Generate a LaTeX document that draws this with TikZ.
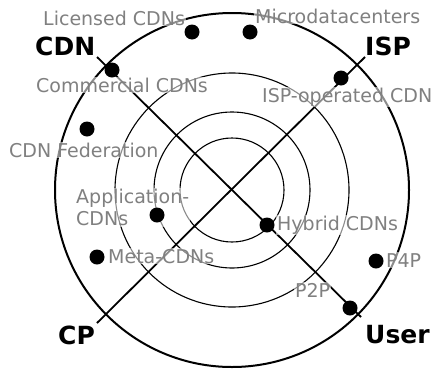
\documentclass[tikz,border=0pt]{standalone}
\usepackage{fontspec}
\setmainfont{DejaVu Sans}
\usetikzlibrary{positioning}

\tikzset{
  dot/.style={circle,fill=black,inner sep=0pt,minimum size=15pt},
  lbl/.style={text=black!50,font=\fontsize{19}{22}\selectfont,fill=white,
    fill opacity=0.55,text opacity=1,inner sep=1pt},
  role/.style={font=\fontsize{25}{27}\selectfont\bfseries,inner sep=0pt},
}

\begin{document}
\begin{tikzpicture}[x=1pt,y=-1pt]
  \useasboundingbox (0,0) rectangle (433,370);
  \coordinate (c) at (232,190);
  \draw [line width=2pt] (c) circle [radius=177pt];
  \foreach \r in {117,78,52}
    \draw [line width=1.1pt] (c) circle [radius=\r pt];
  % the two axes
  \coordinate (cdnend) at (97,57);
  \coordinate (userend) at (361,317);
  \coordinate (ispend) at (365,57);
  \coordinate (cpend) at (97,323);
  \draw [line width=1.8pt] (cdnend) -- (userend);
  \draw [line width=1.8pt] (ispend) -- (cpend);
  % end labels
  \node [role,anchor=base west] (cdn) at (35,55) {CDN};
  \node [role,anchor=base west] (isp) at (365,55) {ISP};
  \node [role,anchor=base west] (cp) at (58,344) {CP};
  \node [role,anchor=base west] (user) at (365,343) {User};
  % approaches
  \node [lbl,anchor=base west] (licensed) at (42,25) {Licensed CDNs};
  \node [lbl,anchor=base west] (micro) at (254,23) {Microdatacenters};
  \node [lbl,anchor=base west] (commercial) at (35,92) {Commercial CDNs};
  \node [lbl,anchor=base west] (ispop) at (261,102) {ISP-operated CDN};
  \node [lbl,anchor=base west] (federation) at (8,157) {CDN Federation};
  \node [lbl,anchor=north west,align=left] (application) at (75,188) {Application-\\CDNs};
  \node [lbl,anchor=base west] (meta) at (107,263) {Meta-CDNs};
  \node [lbl,anchor=base west] (hybrid) at (276,230) {Hybrid CDNs};
  \node [lbl,anchor=base west] (p4p) at (385,267) {P4P};
  \node [lbl,anchor=base west] (p2p) at (294,297) {P2P};
  % markers
  \node [dot] (dlicensed) at (192,32) {};
  \node [dot] (dmicro) at (250,32) {};
  \node [dot] (dcommercial) at (112,70) {};
  \node [dot] (dispop) at (341,78) {};
  \node [dot] (dfederation) at (87,129) {};
  \node [dot] (dapplication) at (157,215) {};
  \node [dot] (dmeta) at (97,257) {};
  \node [dot] (dhybrid) at (267,225) {};
  \node [dot] (dp4p) at (376,261) {};
  \node [dot] (duser) at (350,308) {};
\end{tikzpicture}
\end{document}
